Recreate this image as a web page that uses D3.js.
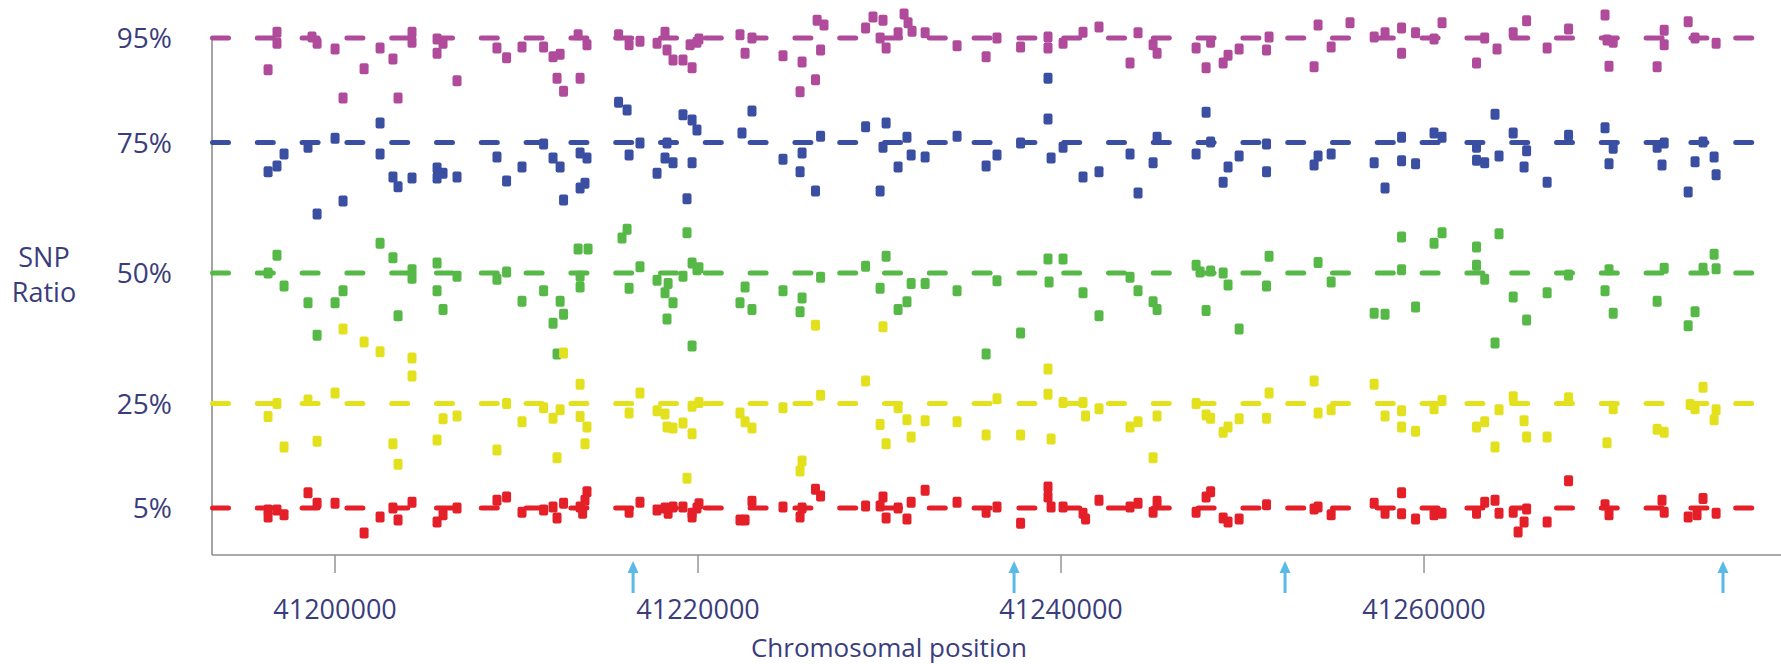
<!DOCTYPE html>
<html>
<head>
<meta charset="utf-8">
<script src="https://cdn.jsdelivr.net/npm/d3@7"></script>
<style>
  html, body { margin: 0; padding: 0; background: #ffffff; }
  svg { display: block; }
  text { font-family: "Open Sans", "DejaVu Sans", sans-serif; fill: #3a3d7c; }
</style>
</head>
<body>
<svg id="chart" width="1781" height="664"></svg>
<script>
// ---------- data ----------
const levels = [95, 75, 50, 25, 5];
const yTickLabels = ["95%", "75%", "50%", "25%", "5%"];
const xTicks = [41200000, 41220000, 41240000, 41260000];
const arrowPositions = [41216450, 41237440, 41252370, 41276500];
const xDomain = [41193250, 41279530];
const yDomain = [-4, 95];

const series95 = [
[41196830,96.1],[41196830,94.0],[41196340,88.9],[41198760,95.2],[41199040,94.0],[41200030,92.9],[41200470,83.5],
[41201630,89.1],[41202510,93.1],[41203220,91.0],[41203500,83.5],[41204270,96.1],[41204270,94.2],[41205650,94.8],
[41205980,94.0],[41205650,92.1],[41206750,86.8],[41208950,93.1],[41209480,91.2],[41210330,93.3],[41211520,93.3],
[41212040,91.4],[41212430,91.9],[41212260,87.3],[41212620,84.8],[41213530,87.3],[41213420,95.6],[41213910,93.7],
[41215650,95.6],[41216230,93.7],[41216830,94.4],[41218210,96.1],[41217770,94.0],[41218320,92.7],[41218650,90.8],
[41219200,90.8],[41219700,89.3],[41219590,93.7],[41219970,94.2],[41220080,94.8],[41222340,95.6],[41222620,92.1],
[41223000,95.0],[41224710,91.6],[41225760,90.4],[41225650,84.7],[41226500,87.0],[41226780,92.7],[41226590,98.4],
[41226970,97.5],[41229260,96.9],[41229670,99.0],[41230220,98.4],[41230060,95.0],[41230390,93.1],[41231050,96.0],
[41231380,99.6],[41231600,97.9],[41231820,96.3],[41232540,96.0],[41234300,93.5],[41235900,91.4],[41236500,95.0],
[41237800,93.3],[41239310,95.2],[41239310,93.1],[41240140,94.0],[41241240,96.1],[41242120,97.1],[41243830,90.2],
[41244270,96.0],[41245100,93.7],[41245320,92.1],[41247470,93.1],[41248020,89.3],[41248270,94.2],[41248960,90.2],
[41249230,91.7],[41249840,92.9],[41251490,95.2],[41251350,92.7],[41253970,89.5],[41254190,97.5],[41254910,93.3],
[41255950,97.9],[41257280,95.2],[41257880,96.0],[41258790,96.9],[41258790,92.1],[41259560,96.0],[41260580,94.8],
[41261020,97.9],[41262920,90.2],[41263370,95.0],[41264050,92.9],[41264940,96.0],[41265680,98.3],[41266810,93.1],
[41267990,96.7],[41270000,99.4],[41270110,94.6],[41270450,94.2],[41270220,89.6],[41272870,89.5],[41273260,93.7],
[41273260,96.5],[41274580,98.1],[41274960,95.0],[41276120,94.0]
];

const series75 = [
[41202510,78.7],[41202510,72.8],[41200030,75.8],[41198540,74.1],[41197220,72.8],[41196830,70.5],[41196340,69.4],
[41199040,61.3],[41200470,63.8],[41203220,68.4],[41203500,66.5],[41204270,68.2],[41205650,70.1],[41205650,68.2],
[41205980,69.1],[41206750,68.4],[41208950,72.2],[41209480,67.6],[41210330,70.3],[41211520,74.7],[41212040,72.0],
[41212430,70.3],[41212620,64.0],[41213530,73.0],[41213910,72.0],[41213530,66.3],[41213800,67.2],[41215650,82.7],
[41216120,81.2],[41216230,72.6],[41216830,74.9],[41217770,69.1],[41218320,74.9],[41218210,72.0],[41218650,71.1],
[41219200,80.3],[41219700,79.3],[41219970,77.4],[41219700,71.1],[41219420,64.2],[41223000,81.0],[41222450,76.8],
[41224710,71.8],[41225760,73.0],[41225650,69.4],[41226500,65.7],[41226780,76.2],[41229260,78.0],[41230390,78.7],
[41230220,74.1],[41230060,65.7],[41231540,76.0],[41231770,72.6],[41231050,70.3],[41232540,72.2],[41234300,76.2],
[41235900,70.5],[41236500,72.6],[41237800,74.9],[41239310,87.3],[41239310,79.5],[41239480,72.0],[41240140,74.1],
[41241240,68.4],[41242120,69.4],[41243830,72.8],[41244270,65.3],[41245100,71.1],[41245320,76.0],[41248020,80.8],
[41247470,72.8],[41248270,75.1],[41249840,72.4],[41249230,70.3],[41248960,67.4],[41251350,74.7],[41251350,69.4],
[41253970,70.7],[41254190,72.4],[41254910,72.8],[41257280,71.1],[41257880,66.3],[41258790,76.0],[41258790,71.5],
[41259560,70.9],[41260580,76.8],[41261020,76.0],[41262920,74.1],[41262920,71.6],[41263370,71.1],[41263940,80.4],
[41264160,72.4],[41264940,76.8],[41265680,73.4],[41265540,70.3],[41266810,67.4],[41267990,76.4],[41270000,77.8],
[41270450,73.9],[41270220,70.9],[41272870,74.1],[41273260,74.9],[41273140,70.7],[41275400,75.1],[41274960,71.3],
[41274580,65.5],[41276010,72.2],[41276120,68.8]
];

const series50 = [
[41196830,53.4],[41202510,55.7],[41203220,52.9],[41204270,50.6],[41204270,49.0],[41205650,51.9],[41213420,54.6],
[41213970,54.6],[41215840,56.7],[41216120,58.4],[41216830,51.2],[41219420,57.7],[41219700,51.9],[41196340,50.0],
[41197220,47.5],[41198540,44.3],[41199040,38.1],[41200030,44.3],[41200470,46.6],[41203500,41.8],[41205650,46.6],
[41205980,43.0],[41206750,49.4],[41208950,48.8],[41209480,50.2],[41210330,44.6],[41211520,46.6],[41212430,44.6],
[41212620,42.1],[41212040,40.4],[41212260,34.5],[41213530,49.4],[41213530,47.3],[41216230,47.1],[41217770,48.6],
[41218380,48.0],[41218210,46.2],[41218650,44.3],[41218320,41.2],[41219200,49.4],[41219700,36.0],[41219970,50.6],
[41220080,51.0],[41222620,47.3],[41222340,44.3],[41223000,43.0],[41224710,46.6],[41225760,45.2],[41225650,42.6],
[41226780,49.2],[41229260,51.3],[41230390,53.2],[41230060,47.1],[41231770,48.0],[41231540,44.5],[41231050,43.0],
[41232540,48.0],[41234300,46.6],[41235900,34.5],[41236500,48.5],[41237800,38.5],[41239310,52.7],[41240140,52.7],
[41239370,48.3],[41241240,46.2],[41242120,41.8],[41243830,49.2],[41244270,46.6],[41245100,44.5],[41245320,43.0],
[41247470,51.5],[41247690,50.2],[41248270,50.4],[41248960,50.0],[41249230,47.7],[41248020,42.8],[41249840,39.3],
[41251490,53.2],[41251350,47.5],[41254190,52.0],[41254910,48.3],[41257280,42.3],[41257880,42.1],[41258790,56.9],
[41258790,50.6],[41259560,43.5],[41261020,57.7],[41260580,55.7],[41264160,57.5],[41262920,55.0],[41262920,51.5],
[41263370,48.8],[41263940,36.6],[41264940,45.4],[41265680,41.0],[41266810,46.2],[41267990,49.6],[41270220,50.6],
[41270000,46.6],[41270450,42.3],[41273260,50.9],[41272870,44.6],[41274960,42.6],[41274580,39.9],[41276010,53.6],
[41276120,50.8],[41275400,50.9]
];

const series25 = [
[41196830,25.0],[41196340,22.5],[41197220,16.7],[41198540,25.7],[41199040,17.8],[41200030,27.0],[41200470,39.3],
[41201630,36.8],[41202510,34.9],[41204270,33.7],[41204270,30.3],[41203220,17.3],[41203500,13.4],[41205650,18.0],
[41205980,22.1],[41206750,22.6],[41208950,16.1],[41209480,25.0],[41210330,21.5],[41211520,24.2],[41212040,22.2],
[41212430,23.8],[41212260,14.6],[41212620,34.7],[41213530,28.7],[41213530,22.5],[41213910,20.5],[41213800,17.3],
[41216230,23.2],[41216830,27.0],[41217770,23.6],[41218210,23.0],[41218320,20.5],[41218650,20.3],[41219200,21.3],
[41219700,19.2],[41219420,10.7],[41219700,24.5],[41220080,25.2],[41222340,23.2],[41222620,21.5],[41223000,20.3],
[41224710,24.2],[41225760,14.0],[41225650,12.1],[41226500,40.0],[41226780,26.6],[41229260,29.3],[41230220,39.7],
[41231050,24.2],[41231540,21.9],[41230060,21.0],[41230390,17.3],[41231770,18.6],[41232540,21.7],[41234300,21.5],
[41236500,25.9],[41235900,19.0],[41237800,19.0],[41239310,31.6],[41239310,26.8],[41239480,18.2],[41240140,25.2],
[41241240,25.2],[41241380,22.6],[41242120,24.0],[41243830,20.5],[41244270,21.5],[41245100,14.6],[41245320,22.6],
[41247470,25.0],[41248020,22.8],[41248270,22.2],[41248960,19.5],[41249230,20.5],[41249840,22.1],[41251490,27.0],
[41251350,22.2],[41253970,29.3],[41254190,23.2],[41254910,23.8],[41257280,28.7],[41257880,22.6],[41258790,23.6],
[41258790,20.5],[41259560,19.7],[41260580,24.0],[41261020,25.6],[41262920,20.5],[41263370,21.5],[41263940,16.7],
[41264160,23.8],[41264940,26.3],[41265540,21.7],[41265680,18.6],[41266810,18.6],[41267990,26.1],[41270450,24.0],
[41270110,17.5],[41272870,20.1],[41273260,19.5],[41275400,28.1],[41274690,24.8],[41274960,24.0],[41276120,23.8],
[41276010,21.9]
];

const series5 = [
[41196340,4.6],[41196340,3.3],[41196830,4.6],[41197220,3.7],[41198540,7.9],[41199040,5.9],[41200030,5.9],
[41201630,0.2],[41202510,3.3],[41203220,5.0],[41203500,2.7],[41204270,6.1],[41205650,2.3],[41205980,3.7],
[41206750,5.0],[41208950,6.5],[41209480,7.1],[41210330,4.2],[41211520,4.6],[41212040,5.2],[41212260,3.1],
[41212620,5.9],[41213530,5.2],[41213670,4.0],[41213910,8.1],[41213800,6.5],[41216230,4.2],[41216830,6.1],
[41217770,4.6],[41218210,5.0],[41218380,4.0],[41218650,5.2],[41219200,5.2],[41219700,4.0],[41219970,5.0],
[41219700,3.3],[41220080,5.8],[41222340,2.7],[41222620,2.7],[41223000,6.3],[41224710,5.2],[41225650,3.3],
[41225760,5.0],[41226500,8.6],[41226780,7.3],[41229260,5.4],[41230220,7.1],[41230060,5.4],[41230390,3.1],
[41231050,5.0],[41231540,2.9],[41231770,6.1],[41232540,8.4],[41234300,6.1],[41235900,4.2],[41236500,5.2],
[41237800,2.1],[41239310,9.0],[41239310,7.1],[41239480,5.2],[41240140,5.2],[41241240,4.0],[41241380,2.9],
[41242120,6.5],[41243830,5.2],[41244270,5.9],[41245100,4.2],[41245320,6.3],[41247470,4.2],[41248270,8.1],
[41248020,7.1],[41248960,3.1],[41249230,2.3],[41249840,2.9],[41251350,5.6],[41253970,4.8],[41254190,5.2],
[41254910,3.7],[41257280,5.9],[41257880,4.0],[41258790,7.9],[41258790,3.9],[41259560,2.9],[41260580,3.7],
[41261020,4.0],[41262920,4.0],[41263370,6.1],[41263940,6.5],[41264160,4.0],[41264940,4.2],[41265680,4.8],
[41265540,2.3],[41265210,0.4],[41266810,2.3],[41267990,10.2],[41270000,5.6],[41270220,3.7],[41273140,6.5],
[41273260,4.2],[41275400,6.8],[41274580,3.3],[41275070,3.7],[41276120,4.0]
];

const seriesList = [series95, series75, series50, series25, series5];
const seriesColors = ["#b04b9b", "#3a4fa2", "#56b847", "#e3e11d", "#e41f28"];

// ---------- layout ----------
const svg = d3.select("#chart");
const x = d3.scaleLinear().domain(xDomain).range([212, 1778]);
const y = d3.scaleLinear().domain(yDomain).range([555, 38]);
const axisColor = "#8e8e8e";

// axes lines
svg.append("line").attr("x1", 212).attr("x2", 212)
  .attr("y1", y(95) - 1).attr("y2", y(yDomain[0]))
  .attr("stroke", axisColor).attr("stroke-width", 1.6);

const xAxis = d3.axisBottom(x).tickValues(xTicks).tickFormat(d3.format("d")).tickSize(18).tickPadding(27);
const gx = svg.append("g").attr("transform", `translate(0,${y(yDomain[0])})`).call(xAxis);
gx.select(".domain").attr("d", `M212,0H1781`).attr("stroke", axisColor).attr("stroke-width", 1.6);
gx.selectAll(".tick line").attr("stroke", axisColor).attr("stroke-width", 1.4);
gx.selectAll(".tick text").attr("font-size", 27).attr("fill", "#3a3d7c")
  .attr("font-family", '"Open Sans", sans-serif');

// y tick labels
const gy = svg.append("g");
gy.selectAll("text").data(levels).join("text")
  .attr("x", 172).attr("y", d => y(d))
  .attr("dy", "0.36em")
  .attr("text-anchor", "end").attr("font-size", 28)
  .text((d, i) => yTickLabels[i]);

// axis titles
svg.append("text").attr("x", 44).attr("y", 267).attr("text-anchor", "middle")
  .attr("font-size", 27).text("SNP");
svg.append("text").attr("x", 44).attr("y", 302).attr("text-anchor", "middle")
  .attr("font-size", 27).text("Ratio");
svg.append("text").attr("x", 889).attr("y", 657).attr("text-anchor", "middle")
  .attr("font-size", 26).text("Chromosomal position");

// dashed reference lines at each level
svg.append("g").selectAll("line").data(levels).join("line")
  .attr("x1", x(xDomain[0]) + 0.5).attr("x2", x(xDomain[1]) - 22)
  .attr("y1", d => y(d)).attr("y2", d => y(d))
  .attr("stroke", (d, i) => seriesColors[i])
  .attr("stroke-width", 5)
  .attr("stroke-linecap", "round")
  .attr("stroke-dasharray", "16 28.8");

// points
const mw = 9, mh = 11;
seriesList.forEach((s, i) => {
  svg.append("g").selectAll("rect").data(s).join("rect")
    .attr("x", d => x(d[0]) - mw / 2)
    .attr("y", d => y(d[1]) - mh / 2)
    .attr("width", mw).attr("height", mh)
    .attr("rx", 2).attr("ry", 2)
    .attr("fill", seriesColors[i]);
});

// arrows below the x axis
const arrowColor = "#5ab9e6";
const ga = svg.append("g");
arrowPositions.forEach(p => {
  const ax = x(p);
  ga.append("line").attr("x1", ax).attr("x2", ax).attr("y1", 593).attr("y2", 568)
    .attr("stroke", arrowColor).attr("stroke-width", 3);
  ga.append("path")
    .attr("d", `M${ax - 5.5},${573}L${ax},${561}L${ax + 5.5},${573}Z`)
    .attr("fill", arrowColor);
});
</script>
</body>
</html>
